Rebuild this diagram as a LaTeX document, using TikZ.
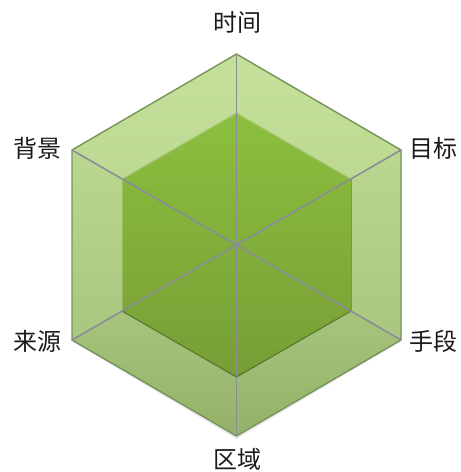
\documentclass[tikz,border=0pt]{standalone}
\usepackage{fontspec}
\newfontfamily\cjk{Noto Sans CJK SC}
\usetikzlibrary{calc}
\definecolor{bandtop}{HTML}{C4E09A}
\definecolor{bandbot}{HTML}{93B268}
\definecolor{innertop}{HTML}{8CBF3E}
\definecolor{innerbot}{HTML}{779E36}
\definecolor{edgec}{HTML}{76945C}
\definecolor{spokec}{HTML}{8A8C98}
\definecolor{txtc}{HTML}{1A1A1A}
\tikzset{
  lbl/.style={font=\cjk\fontsize{24}{24}\selectfont, text=txtc, inner sep=0pt},
  spoke/.style={draw=spokec, line width=1.6pt},
}
\begin{document}
\begin{tikzpicture}[x=1pt,y=-1pt]
\useasboundingbox (0,0) rectangle (461,472);
% outer vertices
\coordinate (O) at (236.5,245);
\coordinate (oT) at (236.5,54);
\coordinate (oUR) at (401,150);
\coordinate (oLR) at (401,340);
\coordinate (oB) at (236.5,436);
\coordinate (oLL) at (72,340);
\coordinate (oUL) at (72,150);
% inner vertices
\coordinate (iT) at (236.5,113);
\coordinate (iUR) at (351,179);
\coordinate (iLR) at (351,311);
\coordinate (iB) at (236.5,377);
\coordinate (iLL) at (122,311);
\coordinate (iUL) at (122,179);
% soft shadow
\fill[black!25, opacity=0.35] ($(oLL)+(1,2)$) -- ($(oB)+(0,3)$) -- ($(oLR)+(-1,2)$) -- (oLR) -- (oB) -- (oLL) -- cycle;
% band faces
\fill[top color=bandtop, bottom color=bandtop!85!bandbot] (oUL) -- (oT) -- (iT) -- (iUL) -- cycle;
\fill[top color=bandtop, bottom color=bandtop!85!bandbot] (oT) -- (oUR) -- (iUR) -- (iT) -- cycle;
\fill[top color=bandtop!80!bandbot, bottom color=bandtop!45!bandbot] (oUR) -- (oLR) -- (iLR) -- (iUR) -- cycle;
\fill[top color=bandtop!80!bandbot, bottom color=bandtop!45!bandbot] (oUL) -- (iUL) -- (iLL) -- (oLL) -- cycle;
\fill[top color=bandtop!40!bandbot, bottom color=bandbot] (oLL) -- (iLL) -- (iB) -- (oB) -- cycle;
\fill[top color=bandtop!40!bandbot, bottom color=bandbot] (oLR) -- (oB) -- (iB) -- (iLR) -- cycle;
% inner hexagon
\fill[top color=innertop, bottom color=innerbot] (iT) -- (iUR) -- (iLR) -- (iB) -- (iLL) -- (iUL) -- cycle;
\draw[innertop!60!white, line width=1.2pt, opacity=0.7] (iUL) -- (iT) -- (iUR);
\draw[innerbot!70!black, line width=1.4pt, opacity=0.6] (iLL) -- (iB) -- (iLR);
\draw[innerbot!80!black, line width=0.9pt, opacity=0.5] (iUR) -- (iLR);
\draw[innerbot!60!white, line width=0.8pt, opacity=0.5] (iUL) -- (iLL);
% outer border
\draw[edgec, line width=1.4pt, line join=miter] (oT) -- (oUR) -- (oLR) -- (oB) -- (oLL) -- (oUL) -- cycle;
% spokes
\draw[spoke] (O) -- (oT);
\draw[spoke] (O) -- (oUR);
\draw[spoke] (O) -- (oLR);
\draw[spoke] (O) -- (oB);
\draw[spoke] (O) -- (oLL);
\draw[spoke] (O) -- (oUL);
% labels
\node[lbl] (t1) at (237,22) {时间};
\node[lbl] (t2) at (433,148) {目标};
\node[lbl] (t3) at (433,341) {手段};
\node[lbl] (t4) at (237,459) {区域};
\node[lbl] (t5) at (37,341) {来源};
\node[lbl] (t6) at (37,148) {背景};
\end{tikzpicture}
\end{document}
